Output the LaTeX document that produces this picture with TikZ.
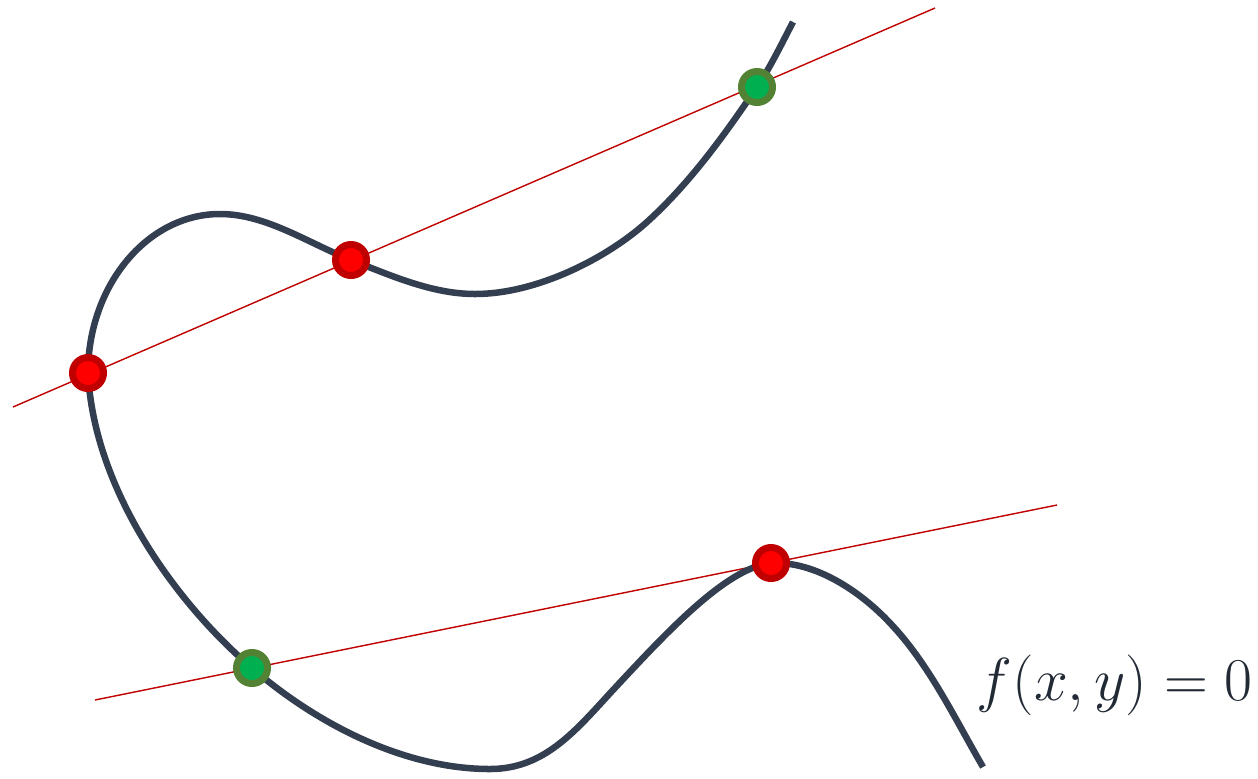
\documentclass[tikz,border=0pt]{standalone}
\usepackage{amsmath}
\usepackage{tikz}

\definecolor{curvecol}{HTML}{333F50}
\definecolor{textcol}{HTML}{222A35}
\definecolor{redring}{HTML}{C00000}
\definecolor{redfill}{HTML}{FF0000}
\definecolor{greenring}{HTML}{548235}
\definecolor{greenfill}{HTML}{00B050}

\tikzset{
    dot/.style={circle, inner sep=0pt, minimum size=0.31cm, line width=0.07cm},
    reddot/.style={dot, draw=redring, fill=redfill},
    greendot/.style={dot, draw=greenring, fill=greenfill},
    secant/.style={redring, line width=0.4pt}
}

\begin{document}
\begin{tikzpicture}[x=0.01cm, y=-0.01cm]
    \useasboundingbox (0,0) rectangle (1258,778);

    % points where the lines meet the curve
    \coordinate (P) at (88,373);
    \coordinate (Q) at (351,260);
    \coordinate (R) at (757,87);
    \coordinate (S) at (252,668);
    \coordinate (T) at (771,563);

    % ends of the two lines
    \coordinate (L1a) at (13,407);
    \coordinate (L1b) at (935,8);
    \coordinate (L2a) at (95,700);
    \coordinate (L2b) at (1057,505);

    \draw[secant] (L1a) -- (L1b);
    \draw[secant] (L2a) -- (L2b);

    % the curve f(x,y)=0
    \draw[curvecol, line width=0.065cm]
        (793,22) .. controls (783,41) and (770,68) .. (R)
        .. controls (724.5,135) and (690,183) .. (647,222)
        .. controls (607,258) and (537,294) .. (475,294)
        .. controls (432,294) and (391,275.5) .. (Q)
        .. controls (308,243) and (266,214) .. (220,214)
        .. controls (147,214) and (88,286) .. (P)
        .. controls (94,490) and (176,603) .. (S)
        .. controls (317,724) and (404,769) .. (490,769)
        .. controls (545,769) and (576,730) .. (613,690)
        .. controls (667,632) and (726,568) .. (T)
        .. controls (815,561) and (860,591) .. (890,623)
        .. controls (929,664) and (954.5,718) .. (983,767);

    \node[reddot] (dP) at (P) {};
    \node[reddot] (dQ) at (Q) {};
    \node[greendot] (dR) at (R) {};
    \node[greendot] (dS) at (S) {};
    \node[reddot] (dT) at (T) {};

    \node[textcol, anchor=base east, font=\fontsize{17}{20}\selectfont] (eq) at (1265,700) {$f(x,y)=0$};
\end{tikzpicture}
\end{document}
